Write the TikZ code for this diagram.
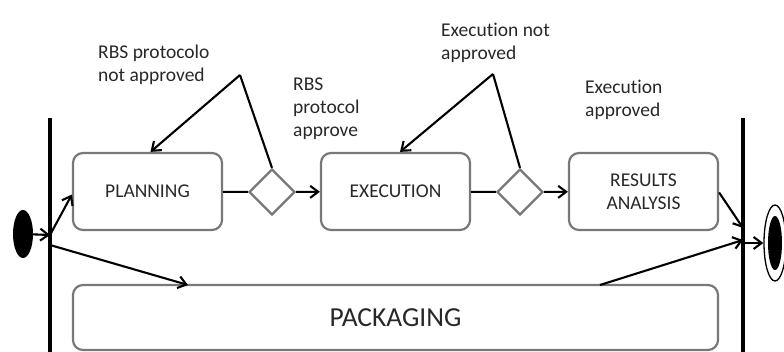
\documentclass[tikz,border=0pt]{standalone}
\usepackage{fontspec}
\setmainfont{Carlito}[Ligatures=NoCommon]
\usepackage{tikz}
\usetikzlibrary{arrows.meta}
\usetikzlibrary{shapes.geometric}

\definecolor{boxgray}{RGB}{120,120,120}
\definecolor{txtgray}{RGB}{40,40,40}

\tikzset{
    activity/.style={draw=boxgray, line width=2.2pt, rounded corners=10pt,
        minimum width=149pt, minimum height=77pt, align=center,
        text=txtgray, font=\fontsize{19.5}{23}\selectfont},
    choice/.style={diamond, draw=boxgray, line width=2.2pt,
        minimum size=46pt, inner sep=0pt},
    flow/.style={line width=2.1pt, -{Straight Barb[length=8pt,width=12pt]}},
    link/.style={line width=2.1pt},
    syncbar/.style={line width=3.8pt},
    guard/.style={anchor=north west, inner sep=0pt, align=left,
        text=txtgray, font=\fontsize{19.5}{23}\selectfont},
}

\begin{document}
\begin{tikzpicture}[x=1pt,y=-1pt]
        \useasboundingbox (0,0) rectangle (784,352);

        % fork and join bars
        \coordinate (forktop) at (50,118);
        \coordinate (forkbot) at (50,352);
        \coordinate (jointop) at (743,118);
        \coordinate (joinbot) at (743,352);
        \draw[syncbar] (forktop) -- (forkbot);
        \draw[syncbar] (jointop) -- (joinbot);

        \node[ellipse, fill=black, minimum width=20pt, minimum height=48pt, inner sep=0pt] (start) at (23,234) {};
        \node[ellipse, draw=black, line width=1.3pt, minimum width=22pt, minimum height=76pt, inner sep=0pt] (stop) at (775,243) {};
        \node[ellipse, fill=black, minimum width=14pt, minimum height=54pt, inner sep=0pt] (stopin) at (775,243) {};

        \node[activity] (plan) at (147.5,191.5) {PLANNING};
        \node[activity] (exec) at (395.5,191.5) {EXECUTION};
        \node[activity] (res) at (643.5,191.5) {RESULTS\\ANALYSIS};
        \node[activity, minimum width=645pt, minimum height=65pt, font=\fontsize{27.5}{32}\selectfont] (pack) at (395.5,317.5) {PACKAGING};

        \node[choice] (dec1) at (272,192) {};
        \node[choice] (dec2) at (520,192) {};

        \node[guard] (nok1) at (98,45) {RBS protocolo\\not approved};
        \node[guard] (ok1) at (293,78) {RBS\\protocol\\approve};
        \node[guard] (nok2) at (441,23) {Execution not\\approved};
        \node[guard] (ok2) at (585,80) {Execution\\approved};

        \coordinate (fj1) at (50,235);
        \coordinate (fj2) at (50,245);
        \coordinate (jn1) at (743,228);
        \coordinate (jn2) at (743,240);
        \coordinate (jn3) at (743,243);
        \coordinate (pk1) at (188,285);
        \coordinate (pk2) at (600,285);
        \coordinate (back1) at (240,75);
        \coordinate (back2) at (493,74);

        \draw[flow] (start) -- (fj1);
        \draw[flow] (fj1) -- ([yshift=-3pt]plan.west);
        \draw[flow] (fj2) -- (pk1);
        \draw[flow] (pk2) -- (jn2);
        \draw[flow] ([yshift=-1pt]res.east) -- (jn1);
        \draw[flow] (jn3) -- (stop);

        \draw[link] (plan) -- (dec1);
        \draw[flow] (dec1) -- (exec);
        \draw[link] (exec) -- (dec2);
        \draw[flow] (dec2) -- (res);

        \draw[link] (dec1.north) -- (back1);
        \draw[flow] (back1) -- ([xshift=3pt]plan.north);
        \draw[link] (dec2.north) -- (back2);
        \draw[flow] (back2) -- ([xshift=4.5pt]exec.north);
    \end{tikzpicture}
\end{document}
